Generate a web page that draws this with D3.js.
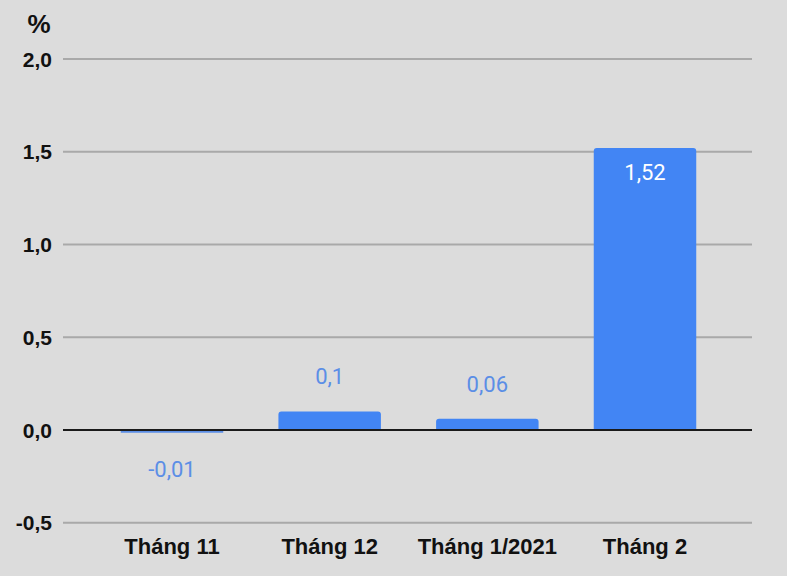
<!DOCTYPE html>
<html><head><meta charset="utf-8">
<script src="https://cdn.jsdelivr.net/npm/d3@7"></script>
<style>html,body{margin:0;padding:0;background:#dcdcdc;}svg{display:block;}</style>
</head><body>
<script>
const categories = ["Tháng 11", "Tháng 12", "Tháng 1/2021", "Tháng 2"];
const values = [-0.01, 0.1, 0.06, 1.52];
const valueLabels = ["-0,01", "0,1", "0,06", "1,52"];
const yTicks = [-0.5, 0, 0.5, 1.0, 1.5, 2.0];
const yTickLabels = ["-0,5", "0,0", "0,5", "1,0", "1,5", "2,0"];
const unitLabel = "%";

const W = 787, H = 576;
const svg = d3.select("body").append("svg").attr("width", W).attr("height", H);
svg.append("rect").attr("width", W).attr("height", H).attr("fill", "#dcdcdc");

const x = d3.scaleBand().domain(categories).range([64, 753]).paddingInner(0.35).paddingOuter(0.36);
const y = d3.scaleLinear().domain([-0.5, 2.0]).range([522.75, 59]);

// gridlines
svg.append("g").selectAll("line").data(yTicks.filter(t => t !== 0)).join("line")
  .attr("x1", 63).attr("x2", 752)
  .attr("y1", d => y(d)).attr("y2", d => y(d))
  .attr("stroke", "#a9a9a9").attr("stroke-width", 2);

// y labels
svg.append("g").selectAll("text").data(yTicks).join("text")
  .attr("x", 52).attr("y", d => y(d) + 7.5)
  .attr("text-anchor", "end")
  .attr("font-family", "Liberation Sans, Arial, sans-serif")
  .attr("font-weight", "bold").attr("font-size", 21).attr("fill", "#111")
  .text((d, i) => yTickLabels[i]);

svg.append("text").attr("x", 39).attr("y", 33).attr("text-anchor", "middle")
  .attr("font-family", "Liberation Sans, Arial, sans-serif")
  .attr("font-weight", "bold").attr("font-size", 26).attr("fill", "#111")
  .text(unitLabel);

// bars with rounded tops
const r = 3;
function barPath(d) {
  const x0 = x(d.c), w = x.bandwidth();
  const y0 = y(0), y1 = y(d.v);
  if (d.v >= 0) {
    const top = y1, rr = Math.min(r, (y0 - top));
    return `M${x0},${y0}V${top + rr}Q${x0},${top} ${x0 + rr},${top}H${x0 + w - rr}Q${x0 + w},${top} ${x0 + w},${top + rr}V${y0}Z`;
  } else {
    return `M${x0},${y0}H${x0 + w}V${y1 + 0.8}H${x0}Z`;
  }
}
const data = categories.map((c, i) => ({c, v: values[i], l: valueLabels[i]}));
svg.append("g").selectAll("path").data(data).join("path")
  .attr("d", barPath)
  .attr("fill", d => d.v >= 0 ? "#4285f4" : "#5b8ee6");

// zero line
svg.append("line").attr("x1", 63).attr("x2", 752).attr("y1", y(0)).attr("y2", y(0))
  .attr("stroke", "#1a1a1a").attr("stroke-width", 2);

// value labels
svg.append("g").selectAll("text").data(data).join("text")
  .attr("x", d => x(d.c) + x.bandwidth() / 2)
  .attr("y", d => {
    if (d.v < 0) return y(0) + 47;
    const top = y(d.v);
    return (y(0) - top) > 60 ? top + 32 : top - 27;
  })
  .attr("text-anchor", "middle")
  .attr("font-family", "Roboto, sans-serif").attr("font-size", 22)
  .attr("fill", d => (d.v >= 0 && (y(0) - y(d.v)) > 60) ? "#ffffff" : "#5b8ee6")
  .text(d => d.l);

// x labels
svg.append("g").selectAll("text").data(categories).join("text")
  .attr("x", d => x(d) + x.bandwidth() / 2).attr("y", 554)
  .attr("text-anchor", "middle")
  .attr("font-family", "Liberation Sans, Arial, sans-serif")
  .attr("font-weight", "bold").attr("font-size", 22).attr("fill", "#111")
  .text(d => d);
</script>
</body></html>
